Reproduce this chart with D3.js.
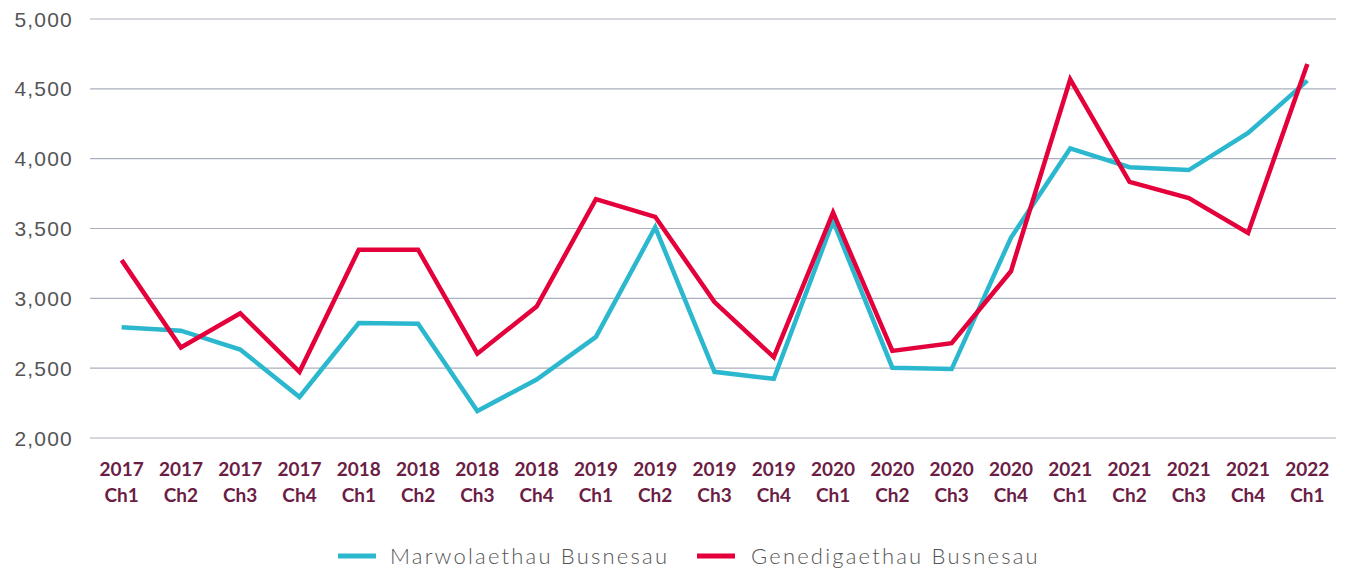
<!DOCTYPE html>
<html>
<head>
<meta charset="utf-8">
<script src="https://cdn.jsdelivr.net/npm/d3@7"></script>
<style>
  body { margin: 0; background: #fff; }
  svg { display: block; font-family: Lato, "Open Sans", sans-serif; }
</style>
</head>
<body>
<div id="chart"></div>
<script>
// quarters (Chwarter) 2017 Ch1 .. 2022 Ch1
var years = ["2017","2017","2017","2017","2018","2018","2018","2018","2019","2019","2019","2019",
             "2020","2020","2020","2020","2021","2021","2021","2021","2022"];
var quarters = ["Ch1","Ch2","Ch3","Ch4","Ch1","Ch2","Ch3","Ch4","Ch1","Ch2","Ch3","Ch4",
                "Ch1","Ch2","Ch3","Ch4","Ch1","Ch2","Ch3","Ch4","Ch1"];
var deaths = [2790, 2765, 2630, 2290, 2820, 2815, 2190, 2415, 2720, 3505, 2470, 2420,
              3550, 2500, 2490, 3430, 4070, 3935, 3915, 4180, 4555];
var births = [3270, 2645, 2890, 2470, 3345, 3345, 2600, 2938, 3707, 3580, 2970, 2575,
              3610, 2620, 2675, 3190, 4565, 3830, 3715, 3465, 4675];
var yTicks = [2000, 2500, 3000, 3500, 4000, 4500, 5000];
var seriesNames = ["Marwolaethau Busnesau", "Genedigaethau Busnesau"];
var seriesColors = ["#2bb8ce", "#e4003b"];

var W = 1354, H = 571;
var plotL = 90, plotR = 1336, plotT = 18.5, plotB = 437.5;

var svg = d3.select("#chart").append("svg")
    .attr("width", W)
    .attr("height", H);

var keys = years.map(function(d, i) { return i; });

var x = d3.scalePoint()
    .domain(keys)
    .range([plotL + 2, plotR + 1])
    .padding(0.5);

var y = d3.scaleLinear()
    .domain([2000, 5000])
    .range([plotB, plotT]);

// gridlines + y labels
var yAxis = d3.axisLeft(y)
    .tickValues(yTicks)
    .tickSize(-(plotR - plotL))
    .tickPadding(17)
    .tickFormat(d3.format(","));

var gy = svg.append("g")
    .attr("transform", "translate(" + plotL + ",0)")
    .call(yAxis);
gy.select(".domain").remove();
gy.selectAll(".tick line")
    .attr("stroke", "#a9afbe")
    .attr("stroke-width", 1.2);
gy.selectAll(".tick text")
    .attr("fill", "#555")
    .attr("font-size", 21)
    .attr("font-weight", 300)
    .attr("letter-spacing", 1.2)
    .attr("dy", "0.36em");

// x labels, two lines
var xl = svg.append("g").selectAll("text")
    .data(keys)
    .enter().append("text")
    .attr("x", function(d) { return x(d); })
    .attr("text-anchor", "middle")
    .attr("fill", "#6b1d45")
    .attr("font-size", 19)
    .attr("font-weight", 700);
xl.append("tspan")
    .attr("x", function(d) { return x(d); })
    .attr("y", 476)
    .text(function(d) { return years[d]; });
xl.append("tspan")
    .attr("x", function(d) { return x(d); })
    .attr("y", 502)
    .text(function(d) { return quarters[d]; });

// lines
var line = d3.line()
    .x(function(d, i) { return x(i); })
    .y(function(d) { return y(d); });

[deaths, births].forEach(function(vals, k) {
    svg.append("path")
        .datum(vals)
        .attr("d", line)
        .attr("fill", "none")
        .attr("stroke", seriesColors[k])
        .attr("stroke-width", 4.5)
        .attr("stroke-linejoin", "miter");
});

// legend
var legX = [338, 697];
var leg = svg.append("g").selectAll("g")
    .data(seriesNames)
    .enter().append("g")
    .attr("transform", function(d, i) { return "translate(" + legX[i] + ",556)"; });
leg.append("line")
    .attr("x1", 0).attr("x2", 38)
    .attr("stroke", function(d, i) { return seriesColors[i]; })
    .attr("stroke-width", 5);
leg.append("text")
    .attr("x", function(d, i) { return i ? 54 : 52; })
    .attr("dy", "0.36em")
    .attr("fill", "#555")
    .attr("font-size", 22)
    .attr("font-weight", 300)
    .attr("letter-spacing", 2.2)
    .text(function(d) { return d; });
</script>
</body>
</html>
